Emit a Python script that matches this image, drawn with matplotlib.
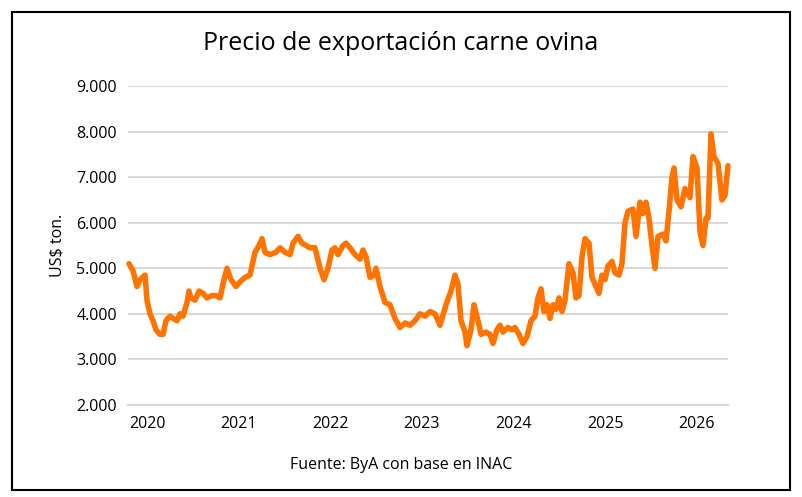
import matplotlib.pyplot as plt
from matplotlib.ticker import FuncFormatter
from matplotlib.patches import Rectangle

# (posicion horizontal en pixeles, precio en miles de US$/ton)
puntos = [
    (129, 5.10), (133, 4.95), (137, 4.60), (140, 4.75), (145, 4.85), (147, 4.30), (150, 4.00), (153, 3.85),
    (156, 3.65), (160, 3.55), (163, 3.55), (166, 3.85), (170, 3.95), (173, 3.90), (177, 3.85), (180, 4.00),
    (183, 3.95), (187, 4.25), (189, 4.50), (191, 4.35), (195, 4.30), (199, 4.50), (203, 4.45), (207, 4.35),
    (212, 4.40), (216, 4.40), (220, 4.35), (224, 4.75), (227, 5.00), (231, 4.75), (236, 4.60), (240, 4.70),
    (245, 4.80), (250, 4.85), (255, 5.35), (259, 5.50), (262, 5.65), (265, 5.35), (270, 5.30), (276, 5.35),
    (280, 5.45), (285, 5.35), (290, 5.30), (293, 5.55), (298, 5.70), (302, 5.55), (306, 5.50), (310, 5.45),
    (315, 5.45), (320, 5.00), (324, 4.75), (328, 5.00), (332, 5.40), (335, 5.45), (338, 5.30), (343, 5.50),
    (346, 5.55), (350, 5.45), (355, 5.30), (360, 5.20), (363, 5.40), (366, 5.25), (370, 4.80), (374, 4.85),
    (376, 5.00), (380, 4.60), (385, 4.25), (390, 4.20), (395, 3.90), (400, 3.70), (405, 3.80), (410, 3.75),
    (415, 3.85), (420, 4.00), (425, 3.95), (430, 4.05), (435, 4.00), (440, 3.75), (446, 4.20), (451, 4.50),
    (455, 4.85), (458, 4.65), (461, 3.85), (465, 3.60), (467, 3.30), (471, 3.65), (474, 4.20), (478, 3.85),
    (481, 3.55), (486, 3.60), (490, 3.55), (493, 3.35), (497, 3.65), (500, 3.75), (503, 3.60), (508, 3.70),
    (512, 3.65), (515, 3.70), (519, 3.55), (523, 3.35), (527, 3.50), (531, 3.85), (535, 3.95), (538, 4.35),
    (541, 4.55), (544, 4.05), (547, 4.20), (550, 3.90), (553, 4.20), (556, 4.10), (559, 4.35), (562, 4.05),
    (565, 4.30), (569, 5.10), (573, 4.90), (576, 4.35), (579, 4.40), (582, 5.25), (585, 5.65), (589, 5.55),
    (592, 4.80), (596, 4.60), (599, 4.45), (602, 4.85), (605, 4.75), (608, 5.05), (612, 5.15), (615, 4.90),
    (619, 4.85), (622, 5.10), (625, 6.00), (628, 6.25), (633, 6.30), (636, 5.70), (640, 6.45), (643, 6.20),
    (646, 6.45), (649, 6.10), (652, 5.50), (655, 5.00), (658, 5.70), (663, 5.75), (666, 5.60), (669, 6.25),
    (672, 7.00), (674, 7.20), (677, 6.50), (681, 6.35), (685, 6.75), (690, 6.55), (693, 7.45), (697, 7.20),
    (700, 5.80), (703, 5.50), (706, 6.10), (708, 6.10), (711, 7.95), (714, 7.45), (718, 7.30), (722, 6.50),
    (725, 6.60), (728, 7.25),
]
anios = [2020, 2021, 2022, 2023, 2024, 2025, 2026]

fecha = [2020 + (p - 147) / 91.6 for p, v in puntos]
valor = [v * 1000 for p, v in puntos]

plt.rcParams['font.family'] = ['Open Sans', 'DejaVu Sans']
fig = plt.figure(figsize=(8.02, 4.97), dpi=100)
ax = fig.add_axes([128 / 802, 1 - 405 / 497, 600 / 802, 319 / 497])

ax.plot(fecha, valor, color='#FF7300', lw=4, solid_joinstyle='round', solid_capstyle='round', clip_on=False)
ax.set_xlim(2020 + (128 - 147) / 91.6, 2020 + (728 - 147) / 91.6)
ax.set_ylim(2000, 9000)
ax.set_yticks(range(2000, 9001, 1000))
ax.yaxis.set_major_formatter(FuncFormatter(lambda v, p: f"{int(v):,}".replace(",", ".")))
ax.set_xticks(anios)
ax.set_xticklabels([str(a) for a in anios])
ax.grid(axis='y', color='#D9D9D9', lw=1.5)
ax.set_axisbelow(True)
for s in ['top', 'right', 'left']:
    ax.spines[s].set_visible(False)
ax.spines['bottom'].set_color('#D9D9D9')
ax.spines['bottom'].set_linewidth(1.5)
ax.tick_params(length=0, labelsize=11.5, pad=8)
ax.set_ylabel('US$ ton.', fontsize=11.5, labelpad=8)

fig.text(0.5, 1 - 44 / 497, 'Precio de exportación carne ovina', ha='center', va='center', fontsize=18)
fig.text(0.5, 1 - 465 / 497, 'Fuente: ByA con base en INAC', ha='center', va='center', fontsize=11.5)
fig.patches.append(Rectangle((12 / 802, 1 - 490 / 497), 778 / 802, 478 / 497, transform=fig.transFigure,
                             fill=False, edgecolor='black', lw=1.5))

fig.savefig('out.png', dpi=100)
